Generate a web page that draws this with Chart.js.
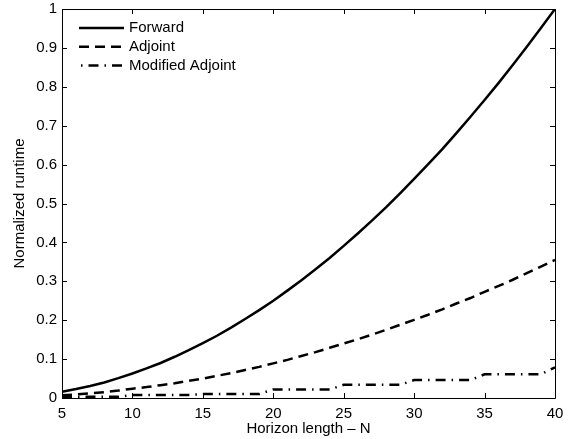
<!DOCTYPE html>
<html>
<head>
<meta charset="utf-8">
<script src="https://cdn.jsdelivr.net/npm/chart.js@4/dist/chart.umd.min.js"></script>
<style>
    body { margin: 0; background: #fff; }
    #wrap { width: 568px; height: 439px; }
</style>
</head>
<body>
<div id="wrap"><canvas id="runtimeChart"></canvas></div>
<script>
// Horizon lengths N
const horizon = [5, 6, 7, 8, 9, 10, 11, 12, 13, 14, 15, 16, 17, 18, 19, 20, 21, 22, 23, 24,
    25, 26, 27, 28, 29, 30, 31, 32, 33, 34, 35, 36, 37, 38, 39, 40];

// Normalized runtimes
const forward = [0.016, 0.023, 0.031, 0.040, 0.051, 0.063, 0.076, 0.090, 0.106, 0.123,
    0.141, 0.160, 0.181, 0.203, 0.226, 0.250, 0.276, 0.303, 0.331, 0.360,
    0.391, 0.423, 0.456, 0.490, 0.526, 0.563, 0.601, 0.640, 0.681, 0.723,
    0.766, 0.810, 0.856, 0.903, 0.951, 1.000];
const adjoint = [0.007, 0.009, 0.012, 0.015, 0.019, 0.024, 0.028, 0.033, 0.038, 0.044,
    0.050, 0.057, 0.064, 0.072, 0.080, 0.089, 0.098, 0.108, 0.118, 0.129,
    0.140, 0.151, 0.163, 0.175, 0.188, 0.201, 0.214, 0.228, 0.243, 0.257,
    0.273, 0.288, 0.304, 0.321, 0.338, 0.355];
const modifiedAdjoint = [0.003, 0.003, 0.003, 0.003, 0.003, 0.008, 0.008, 0.008, 0.008, 0.008,
    0.010, 0.010, 0.010, 0.010, 0.010, 0.022, 0.022, 0.022, 0.022, 0.022,
    0.034, 0.034, 0.034, 0.034, 0.034, 0.046, 0.046, 0.046, 0.046, 0.046,
    0.061, 0.061, 0.061, 0.061, 0.061, 0.079];

const seriesLabels = ['Forward', 'Adjoint', 'Modified Adjoint'];
const xTicks = [5, 10, 15, 20, 25, 30, 35, 40];
const yTicks = [0, 0.1, 0.2, 0.3, 0.4, 0.5, 0.6, 0.7, 0.8, 0.9, 1];

const fontFamily = "'Liberation Sans', Arial, Helvetica, sans-serif";

function points(values) {
    return horizon.map((n, i) => ({x: n, y: values[i]}));
}

// box around the axes with inward ticks on all four sides (Matlab look)
const framePlugin = {
    id: 'frame',
    afterDatasetsDraw(chart) {
        const {ctx, chartArea: a, scales} = chart;
        const len = 5;
        ctx.save();
        ctx.strokeStyle = '#000';
        ctx.lineWidth = 1;
        ctx.setLineDash([]);
        ctx.beginPath();
        ctx.rect(Math.round(a.left) + 0.5, Math.round(a.top) + 0.5,
            Math.round(a.right - a.left), Math.round(a.bottom - a.top));
        xTicks.forEach(v => {
            const px = Math.round(scales.x.getPixelForValue(v)) + 0.5;
            ctx.moveTo(px, a.bottom); ctx.lineTo(px, a.bottom - len);
            ctx.moveTo(px, a.top); ctx.lineTo(px, a.top + len);
        });
        yTicks.forEach(v => {
            const py = Math.round(scales.y.getPixelForValue(v)) + 0.5;
            ctx.moveTo(a.left, py); ctx.lineTo(a.left + len, py);
            ctx.moveTo(a.right, py); ctx.lineTo(a.right - len, py);
        });
        ctx.stroke();
        ctx.restore();
    }
};

// legend drawn inside the upper-left corner of the plot
const insideLegend = {
    id: 'insideLegend',
    afterDraw(chart) {
        const {ctx, chartArea: a} = chart;
        const x0 = a.left + 17, x1 = a.left + 62, y0 = a.top + 19, step = 18.7;
        ctx.save();
        ctx.font = '15px ' + fontFamily;
        ctx.textBaseline = 'middle';
        ctx.fillStyle = '#000';
        chart.data.datasets.forEach((ds, i) => {
            const y = y0 + i * step;
            ctx.strokeStyle = ds.borderColor;
            ctx.lineWidth = ds.borderWidth;
            ctx.setLineDash(ds.borderDash || []);
            ctx.lineDashOffset = ds.legendOffset || 0;
            ctx.beginPath();
            ctx.moveTo(x0, y);
            ctx.lineTo(x1, y);
            ctx.stroke();
            ctx.fillText(ds.label, x1 + 5, y);
        });
        ctx.restore();
    }
};

let ctx = document.getElementById('runtimeChart').getContext('2d');

let runtimeChart = new Chart(ctx, {
    type: 'line',
    data: {
        datasets: [{
            label: seriesLabels[0],
            data: points(forward),
            borderColor: '#000',
            borderWidth: 2.5,
            pointRadius: 0,
            tension: 0
        }, {
            label: seriesLabels[1],
            data: points(adjoint),
            borderColor: '#000',
            borderWidth: 2.5,
            borderDash: [10, 6],
            pointRadius: 0,
            tension: 0
        }, {
            label: seriesLabels[2],
            data: points(modifiedAdjoint),
            borderColor: '#000',
            borderWidth: 2.5,
            borderDash: [10, 6, 1.5, 6],
            legendOffset: 14,
            pointRadius: 0,
            tension: 0
        }]
    },
    options: {
        responsive: true,
        maintainAspectRatio: false,
        animation: false,
        layout: {padding: {left: 0, right: 13, top: 9, bottom: 0}},
        plugins: {legend: {display: false}, tooltip: {enabled: false}},
        scales: {
            x: {
                type: 'linear',
                min: 5,
                max: 40,
                grid: {display: false, drawTicks: false},
                border: {display: false},
                afterBuildTicks: scale => { scale.ticks = xTicks.map(v => ({value: v})); },
                afterFit: scale => {
                    scale.height = 41;
                    scale.paddingLeft = 0;
                    scale.paddingRight = 0;
                },
                ticks: {
                    color: '#000',
                    padding: 7,
                    maxRotation: 0,
                    font: {family: fontFamily, size: 15}
                },
                title: {
                    display: true,
                    text: 'Horizon length \u2013 N',
                    color: '#000',
                    padding: {top: 0, bottom: 1},
                    font: {family: fontFamily, size: 15}
                }
            },
            y: {
                min: 0,
                max: 1,
                grid: {display: false, drawTicks: false},
                border: {display: false},
                afterBuildTicks: scale => { scale.ticks = yTicks.map(v => ({value: v})); },
                afterFit: scale => {
                    scale.width = 62;
                    scale.paddingTop = 0;
                    scale.paddingBottom = 0;
                },
                ticks: {
                    color: '#000',
                    padding: 5,
                    font: {family: fontFamily, size: 15},
                    callback: value => String(Math.round(value * 10) / 10)
                },
                title: {
                    display: true,
                    text: 'Normalized runtime',
                    color: '#000',
                    padding: {top: 11, bottom: 0},
                    font: {family: fontFamily, size: 15}
                }
            }
        }
    },
    plugins: [framePlugin, insideLegend]
});
</script>
</body>
</html>
